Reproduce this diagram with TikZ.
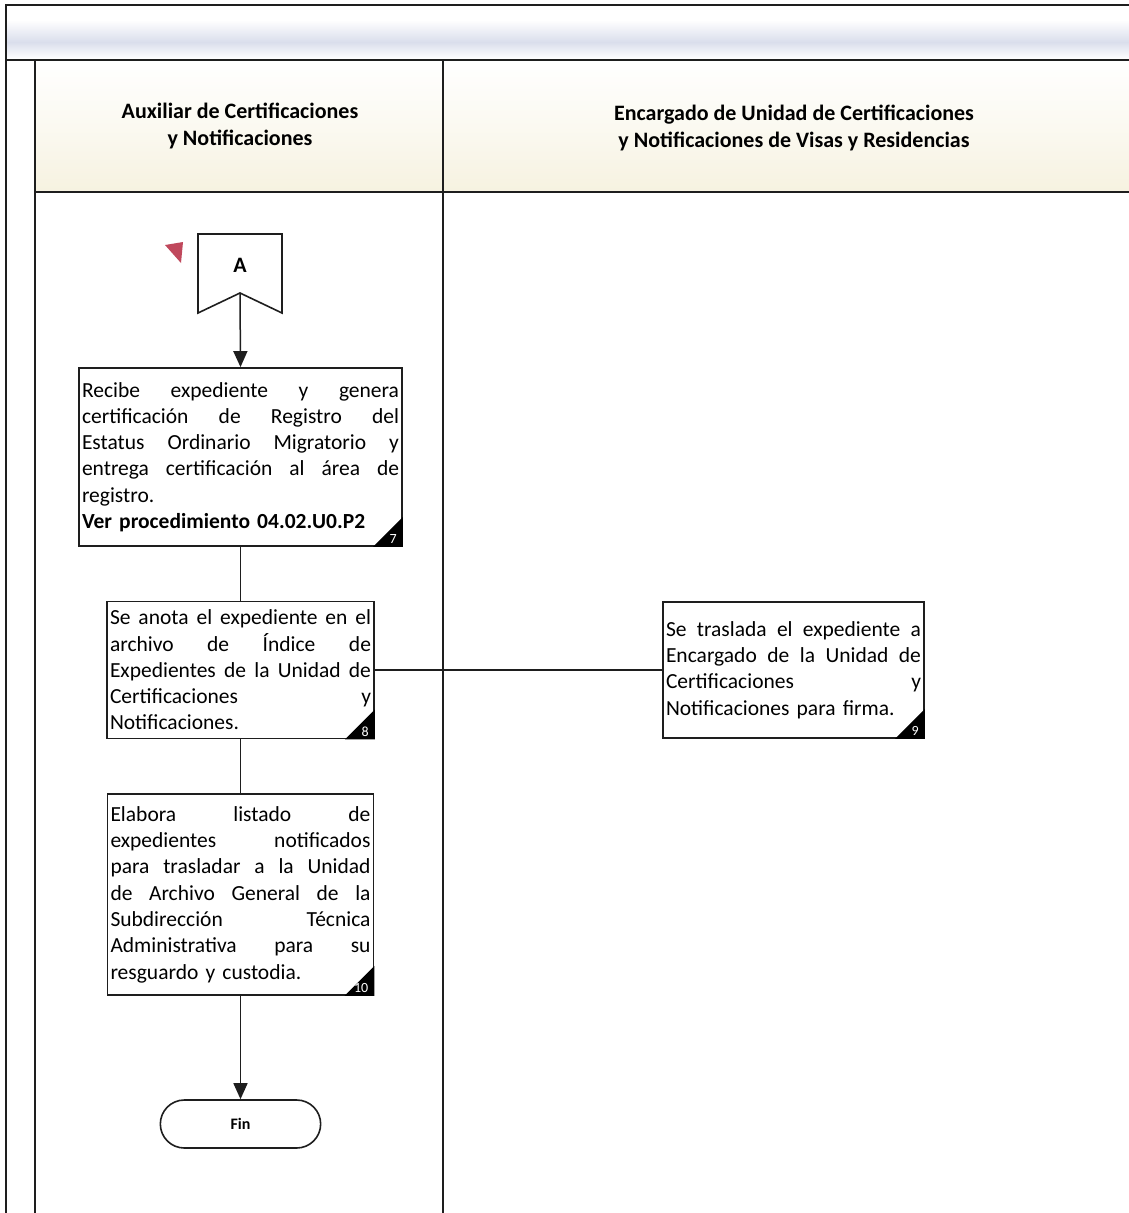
\documentclass[tikz,border=0pt]{standalone}
\usepackage{fontspec}
\setmainfont{Carlito}
\usetikzlibrary{arrows.meta,shapes.misc}

\definecolor{inkline}{RGB}{30,30,30}
\definecolor{hdrcream}{RGB}{246,242,224}
\definecolor{haze}{RGB}{218,222,236}
\definecolor{flagred}{RGB}{192,72,92}

% one fully justified line inside a process box
\newcommand\jl[1]{\makebox[\hsize][s]{\spaceskip=0pt\xspaceskip=0pt #1}\\}
\newcommand\procfont{\fontsize{21.5}{26.3}\selectfont}
\newcommand\headfont{\fontsize{22}{27}\selectfont\bfseries}

\tikzset{
  lane/.style={draw=inkline, line width=1.4pt},
  procbox/.style={draw=inkline, line width=1.8pt, fill=white, inner xsep=3pt,
    inner ysep=0pt, font=\procfont},
  corner/.style={fill=black},
  stepnum/.style={text=white, font=\fontsize{14}{14}\selectfont, inner sep=0pt},
  flow/.style={draw=inkline, line width=1.5pt},
  flowarrow/.style={flow, -{Triangle[length=16pt,width=14pt]}},
  lanehead/.style={align=center, font=\headfont},
}

\begin{document}
\begin{tikzpicture}[x=1pt,y=-1pt]
\useasboundingbox (0,0) rectangle (1129,1213);
\fill[white] (0,0) rectangle (1129,1213);

% faint band above the lane headers
\shade[top color=white, bottom color=haze] (6,20) rectangle (1129,42);
\shade[top color=haze, bottom color=white] (6,42) rectangle (1129,59);

% lane header background
\shade[top color=white, bottom color=hdrcream, middle color=white!55!hdrcream] (35,60) rectangle (1129,192);

% frame and lane separators
\draw[inkline, line width=2.4pt] (6,1213) -- (6,5) -- (1129,5);
\draw[lane] (6,60) -- (1129,60);
\draw[lane] (35,60) -- (35,1213);
\draw[lane] (443,60) -- (443,1213);
\draw[lane] (35,192) -- (1129,192);

% lane titles
\node[lanehead] (h1) at (240,126) {Auxiliar de Certificaciones\\y Notificaciones};
\node[lanehead] (h2) at (794,128) {Encargado de Unidad de Certificaciones\\y Notificaciones de Visas y Residencias};

% off-page connector A
\coordinate (aTL) at (198,234);
\coordinate (aTR) at (282,234);
\coordinate (aBR) at (282,313);
\coordinate (aNotch) at (240,293);
\coordinate (aBL) at (198,313);
\draw[inkline, line width=1.6pt, fill=white] (aTL) -- (aTR) -- (aBR) -- (aNotch) -- (aBL) -- cycle;
\node[font=\fontsize{22}{22}\selectfont\bfseries] (aLbl) at (240,265) {A};
\fill[flagred] (165,245) -- (183,242) -- (181,263) -- cycle;

% process steps
\node[procbox, minimum width=323pt, minimum height=178pt, text width=317pt] (b7) at (240.5,457)
 {\jl{Recibe expediente y genera}\jl{certificación de Registro del}\jl{Estatus Ordinario Migratorio y}\jl{entrega certificación al área de}registro.\\\textbf{Ver procedimiento 04.02.U0.P2}};

\node[procbox, minimum width=267pt, minimum height=137pt, text width=261pt] (b8) at (240.5,670)
 {\jl{Se anota el expediente en el}\jl{archivo de Índice de}\jl{Expedientes de la Unidad de}\jl{Certificaciones y}Notificaciones.};

\node[procbox, minimum width=261pt, minimum height=136pt, text width=255pt] (b9) at (793.5,670)
 {\jl{Se traslada el expediente a}\jl{Encargado de la Unidad de}\jl{Certificaciones y}Notificaciones para firma.};

\node[procbox, minimum width=266pt, minimum height=201pt, text width=260pt] (b10) at (240.5,894.5)
 {\jl{Elabora listado de}\jl{expedientes notificados}\jl{para trasladar a la Unidad}\jl{de Archivo General de la}\jl{Subdirección Técnica}\jl{Administrativa para su}resguardo y custodia.};

% numbered corner flags
\foreach \b/\n in {b7/7, b8/8, b9/9, b10/10}{
  \fill[corner] (\b.south east) -- ++(-30,0) -- ++(30,-30) -- cycle;
  \node[stepnum, anchor=south east, xshift=-6pt, yshift=3pt] at (\b.south east) {\n};
}

% terminator
\node[draw=inkline, line width=1.6pt, rounded rectangle, minimum width=167pt, minimum height=48pt,
  font=\fontsize{16}{16}\selectfont\bfseries] (fin) at (240.5,1124) {Fin};

% connectors
\draw[flowarrow] (aNotch) -- (b7.north);
\draw[flow] (b7.south) -- (b8.north);
\draw[flow] (b8.east) -- (b9.west);
\draw[flow] (b8.south) -- (b10.north);
\draw[flowarrow] (b10.south) -- (fin.north);
\end{tikzpicture}
\end{document}
